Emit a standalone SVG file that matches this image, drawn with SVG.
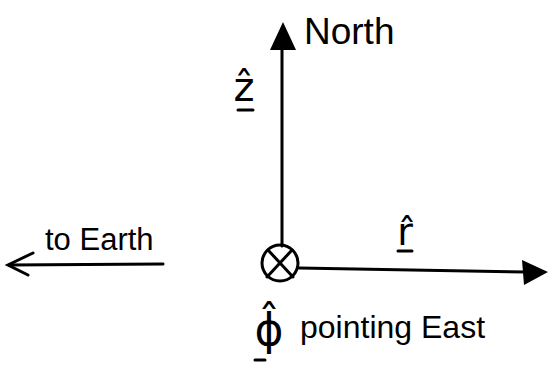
<svg xmlns="http://www.w3.org/2000/svg" width="549" height="391" viewBox="0 0 549 391">
<style>
.ln{stroke:#000;stroke-width:3;fill:none;stroke-linecap:round}
.t{font-family:"Liberation Sans","DejaVu Sans",sans-serif;fill:#000}
.m{font-family:"DejaVu Sans",sans-serif;fill:#000}
</style>
<rect width="549" height="391" fill="#fff"/>
<g id="connectors">
<line class="ln" x1="282" y1="246" x2="282" y2="46"/>
<polygon points="283,22 270,50 296,50" fill="#000"/>
<line class="ln" x1="299" y1="268" x2="526" y2="272"/>
<polygon points="548,272 522,260 524,285" fill="#000"/>
<line class="ln" x1="163" y1="264" x2="9" y2="265"/>
<polyline class="ln" points="33,253 8,265 28,275"/>
</g>
<g id="origin">
<circle cx="280" cy="263" r="18" class="ln"/>
<line class="ln" x1="268" y1="250" x2="293" y2="277"/>
<line class="ln" x1="292" y1="250" x2="267" y2="277"/>
</g>
<g id="north">
<text class="t" x="304" y="44" font-size="37">North</text>
</g>
<g id="zhat">
<text class="m" x="244" y="101" font-size="40" text-anchor="middle">ẑ</text>
<line class="ln" x1="238" y1="110" x2="253" y2="110"/>
</g>
<g id="rhat">
<text class="m" x="405" y="245" font-size="38" text-anchor="middle">r̂</text>
<line class="ln" x1="398" y1="251" x2="412" y2="251"/>
</g>
<g id="earth">
<text class="t" x="45" y="250" font-size="31">to Earth</text>
</g>
<g id="phi">
<text class="m" x="269" y="345" font-size="44" text-anchor="middle">ϕ̂</text>
<line class="ln" x1="255" y1="360" x2="265" y2="360"/>
<text class="t" x="300" y="338" font-size="32">pointing East</text>
</g>
</svg>
